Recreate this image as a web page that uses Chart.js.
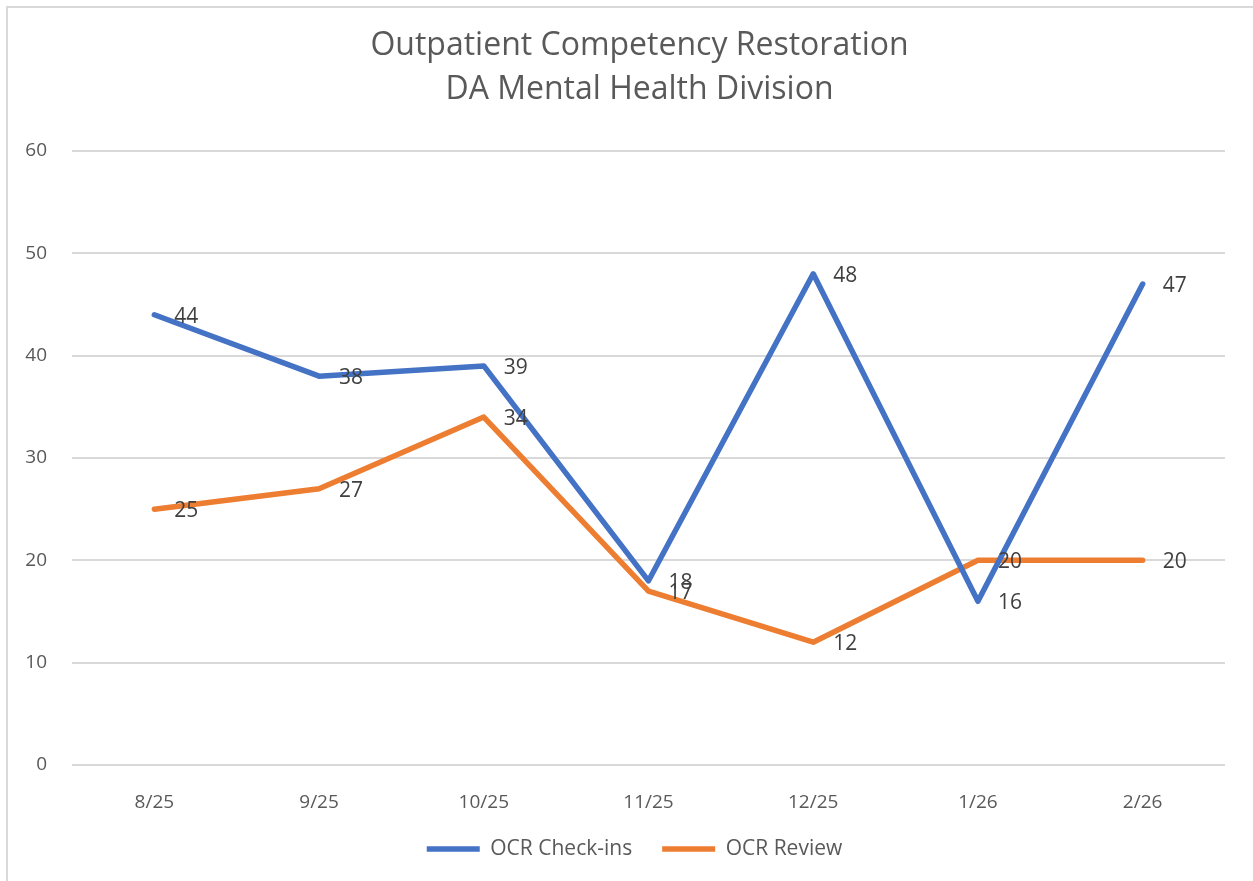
<!DOCTYPE html>
<html>
<head>
<meta charset="utf-8">
<script src="https://cdn.jsdelivr.net/npm/chart.js@4"></script>
<style>
  body { margin: 0; background: #fff; }
  #wrap { position: relative; width: 1253px; height: 881px; overflow: hidden; }
  #frame { position: absolute; left: 6px; top: 6px; width: 1400px; height: 1000px;
           border-top: 2px solid #d9d9d9; border-left: 2px solid #d9d9d9; pointer-events: none; }
</style>
</head>
<body>
<div id="wrap">
  <canvas id="myChart" width="1253" height="881"></canvas>
  <div id="frame"></div>
</div>
<script>
const months = ["8/25", "9/25", "10/25", "11/25", "12/25", "1/26", "2/26"];
const checkIns = [44, 38, 39, 18, 48, 16, 47];
const reviews = [25, 27, 34, 17, 12, 20, 20];
const titleLines = ["Outpatient Competency Restoration", "DA Mental Health Division"];

const FONT = "'Open Sans', sans-serif";

// value labels to the right of each point, like Excel's "right" position
const pointLabels = {
  id: "pointLabels",
  afterDatasetsDraw(chart) {
    const c = chart.ctx;
    c.save();
    c.font = "21px " + FONT;
    c.fillStyle = "#404040";
    c.textAlign = "left";
    c.textBaseline = "middle";
    chart.data.datasets.forEach((ds, i) => {
      chart.getDatasetMeta(i).data.forEach((pt, j) => {
        c.fillText(ds.data[j], pt.x + 20, pt.y + 2);
      });
    });
    c.restore();
  }
};

// excel centres title + legend on the whole frame, not the plot; nudge them right a bit
const nudgeBlocks = {
  id: "nudgeBlocks",
  afterLayout(chart) {
    if (chart.titleBlock) { chart.titleBlock.left += 27; chart.titleBlock.right += 27; }
    if (chart.legend) { chart.legend.left += 22; chart.legend.right += 22; }
  }
};

let myChart = document.getElementById("myChart").getContext("2d");

let ocrChart = new Chart(myChart, {
  type: "line",
  data: {
    labels: months,
    datasets: [
      {
        label: "OCR Check-ins",
        data: checkIns,
        borderColor: "#4472C4",
        backgroundColor: "#4472C4",
        borderWidth: 5.5,
        borderCapStyle: "round",
        borderJoinStyle: "round",
        pointRadius: 0,
        tension: 0,
      },
      {
        label: "OCR Review",
        data: reviews,
        borderColor: "#ED7D31",
        backgroundColor: "#ED7D31",
        borderWidth: 5.5,
        borderCapStyle: "round",
        borderJoinStyle: "round",
        pointRadius: 0,
        tension: 0,
      },
    ],
  },
  options: {
    responsive: false,
    animation: false,
    layout: { padding: { top: 24, right: 28, bottom: 11.5, left: 0 } },
    plugins: {
      title: {
        display: true,
        text: titleLines,
        color: "#595959",
        font: { family: FONT, size: 32, weight: "normal", lineHeight: 1.375 },
        padding: { top: 0, bottom: 39 },
      },
      legend: {
        position: "bottom",
        labels: {
          usePointStyle: true,
          pointStyle: "line",
          pointStyleWidth: 53,
          color: "#595959",
          font: { family: FONT, size: 21 },
          padding: 30,
        },
      },
      tooltip: { enabled: false },
    },
    scales: {
      x: {
        offset: true,
        grid: { display: false },
        border: { display: false },
        ticks: { color: "#595959", font: { family: FONT, size: 19 }, padding: 18 },
        afterFit(scale) { scale.height = 43.5; },
      },
      y: {
        min: 0,
        max: 60,
        ticks: { stepSize: 10, color: "#595959", font: { family: FONT, size: 19 }, padding: 25 },
        grid: { color: "#d9d9d9", lineWidth: 2, drawTicks: false },
        border: { display: false },
        afterFit(scale) { scale.width = 72; },
      },
    },
  },
  plugins: [pointLabels, nudgeBlocks],
});
</script>
</body>
</html>
